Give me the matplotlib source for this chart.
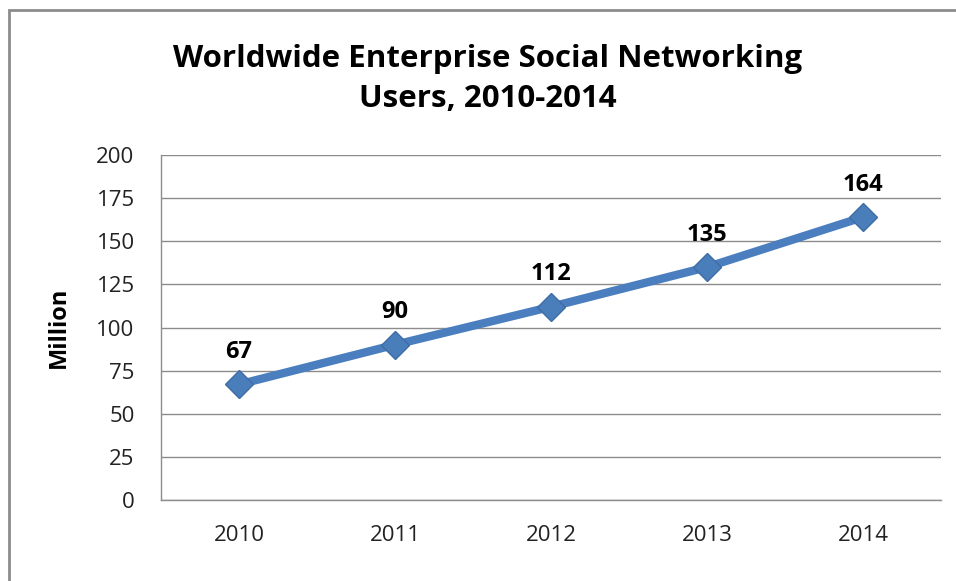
import matplotlib.pyplot as plt
from matplotlib.patches import Rectangle

years = ['2010', '2011', '2012', '2013', '2014']
users = [67, 90, 112, 135, 164]
y_ticks = [0, 25, 50, 75, 100, 125, 150, 175, 200]

plt.rcParams['font.family'] = ['Open Sans', 'DejaVu Sans']

fig = plt.figure(figsize=(9.56, 5.81), dpi=100)
ax = fig.add_axes([161/956, 1 - 500/581, 780/956, 345/581])

# chart border (only top and left visible in the crop)
fig.patches.append(Rectangle((9/956, -0.1), 1.2, 1 - 10/581 + 0.1,
                             transform=fig.transFigure, fill=False,
                             edgecolor='#8c8c8c', linewidth=2))

x = list(range(len(years)))
ax.plot(x, users, color='#4A7EBF', linewidth=6, solid_capstyle='butt',
        marker='D', markersize=14.5, markerfacecolor='#4A7EBB',
        markeredgecolor='#3E6DA5', markeredgewidth=1, zorder=3)

for xi, v in zip(x, users):
    ax.annotate(str(v), (xi, v), xytext=(0, 19), textcoords='offset points',
                ha='center', va='baseline', fontsize=17, fontweight='bold')

ax.set_xlim(-0.5, 4.5)
ax.set_ylim(0, 200)
ax.set_yticks(y_ticks)
ax.set_xticks(x)
ax.set_xticklabels(years)
ax.tick_params(length=0, labelsize=16, colors='#222222')
ax.tick_params(axis='x', pad=18)
ax.tick_params(axis='y', pad=19)
ax.grid(axis='y', color='#8c8c8c', linewidth=1)
ax.set_axisbelow(True)
for s in ['top', 'right']:
    ax.spines[s].set_visible(False)
for s in ['left', 'bottom']:
    ax.spines[s].set_color('#8c8c8c')
    ax.spines[s].set_linewidth(1)

ax.set_ylabel('Million', fontsize=17, fontweight='bold', labelpad=18)

fig.text(488/956, 1 - 79/581, 'Worldwide Enterprise Social Networking\nUsers, 2010-2014',
         ha='center', va='center', fontsize=22.5, fontweight='bold', linespacing=1.45)

fig.savefig('out.png', dpi=100)
